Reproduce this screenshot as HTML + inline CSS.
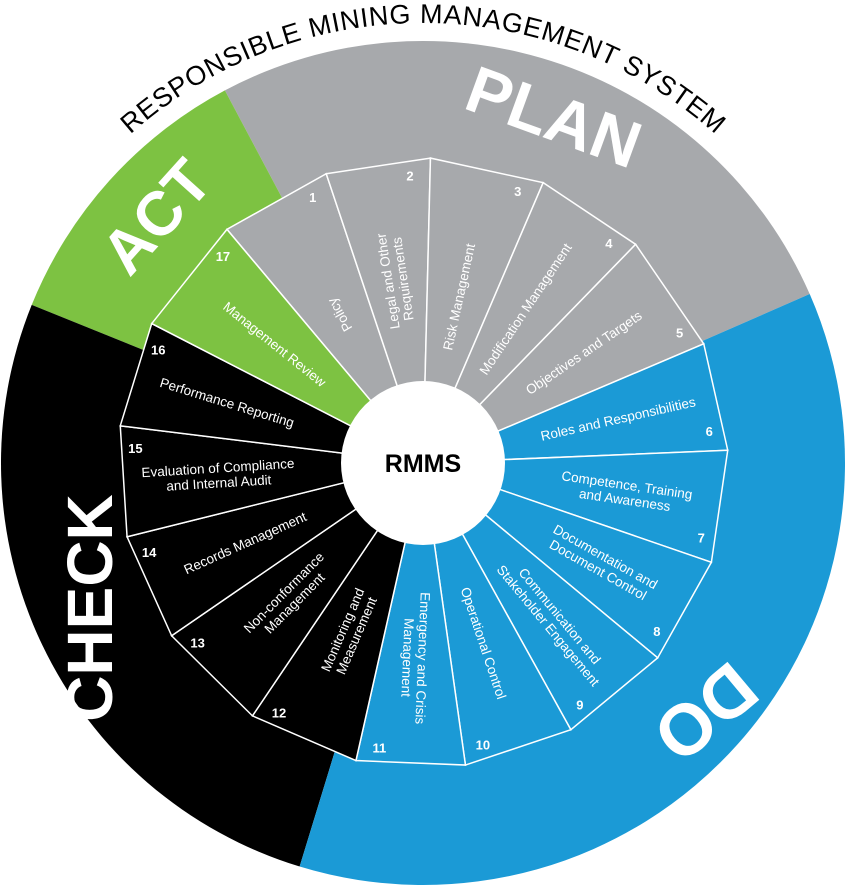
<!DOCTYPE html>
<html><head><meta charset="utf-8"><style>
html,body{margin:0;padding:0;background:#fff;width:845px;height:887px;overflow:hidden}
svg{display:block;font-family:"Liberation Sans",sans-serif}
</style></head><body>
<svg id="s" width="845" height="887" viewBox="0 0 845 887" xmlns="http://www.w3.org/2000/svg"></svg>
<script>
const s=document.getElementById('s');const cx=423,cy=463;
function P(r,a){a=a*Math.PI/180;return [cx+r*Math.cos(a),cy-r*Math.sin(a)];}
let h='';
function wedge(a1,a2,r,col){const p1=P(r,a1),p2=P(r,a2);const large=(a2-a1)>180?1:0;
h+=`<path d="M${cx},${cy}L${p1}A${r},${r} 0 ${large} 0 ${p2}Z" fill="${col}"/>`;}
const G='#a7a9ac',B='#1b9ad6',Gr='#7dc242',K='#000';
wedge(23.6,118,422,G);wedge(118,158,422,Gr);wedge(158,253,422,K);wedge(-107,23.6,422,B);
const ta=P(440,135),tb=P(440,45);
h+=`<path id="tp" d="M${ta}A440,440 0 0 1 ${tb}" fill="none"/>`;
h+=`<text font-size="27" fill="#000"><textPath href="#tp" startOffset="50%" text-anchor="middle" textLength="640">RESPONSIBLE MINING MANAGEMENT SYSTEM</textPath></text>`;
const b=[130,108.5,88.6,66.8,45.8,23,2.4,-19,-39.7,-61,-82,-102.7,-124,-145.5,-166,-187,-207.2,-230];
const cols=[G,G,G,G,G,B,B,B,B,B,B,K,K,K,K,K,Gr];
const labels=[["Policy"],["Legal and Other","Requirements"],["Risk Management"],["Modification Management"],["Objectives and Targets"],["Roles and Responsibilities"],["Competence, Training","and Awareness"],["Documentation and","Document Control"],["Communication and","Stakeholder Engagement"],["Operational Control"],["Emergency and Crisis","Management"],["Monitoring and","Measurement"],["Non-conformance","Management"],["Records Management"],["Evaluation of Compliance","and Internal Audit"],["Performance Reporting"],["Management Review"]];
const lr=[170,185,170,185,195,200,205,205,205,190,195,185,190,195,205,205,190];
for(let i=0;i<17;i++){const a1=b[i],a2=b[i+1];const p1=P(305,a1),p2=P(305,a2);
h+=`<path d="M${cx},${cy}L${p1}L${p2}Z" fill="${cols[i]}" stroke="#fff" stroke-width="1.5"/>`;}
for(let i=0;i<17;i++){const a1=b[i],a2=b[i+1];const m=(a1+a2)/2;const p=P(lr[i],m);
let rot=i<11?-m:180-m;const L=labels[i];
h+=`<g transform="translate(${p[0]},${p[1]}) rotate(${rot})"><text fill="#fff" font-size="13.5" text-anchor="middle">`;
L.forEach((t,j)=>{h+=`<tspan x="0" y="${(j-(L.length-1)/2)*15+4.5}">${t}</tspan>`;});
h+=`</text></g>`;
const n=P(288,a2+4);h+=`<text x="${n[0]}" y="${n[1]+5}" fill="#fff" font-size="13" font-weight="bold" text-anchor="middle">${i+1}</text>`;}
h+=`<circle cx="${cx}" cy="${cy}" r="82" fill="#fff"/>`;
h+=`<text x="${cx}" y="${cy+9}" font-size="25" font-weight="bold" text-anchor="middle">RMMS</text>`;
function big(t,x,y,r,fs){h+=`<text transform="translate(${x},${y}) rotate(${r})" fill="#fff" font-size="${fs}" font-weight="bold" text-anchor="middle" dominant-baseline="middle">${t}</text>`;}
big('PLAN',552,122,20,66);big('ACT',160,220,-48,62);big('CHECK',95,608,-90,64);big('DO',702,708,140,72);
s.innerHTML=h;
</script>
</body></html>
